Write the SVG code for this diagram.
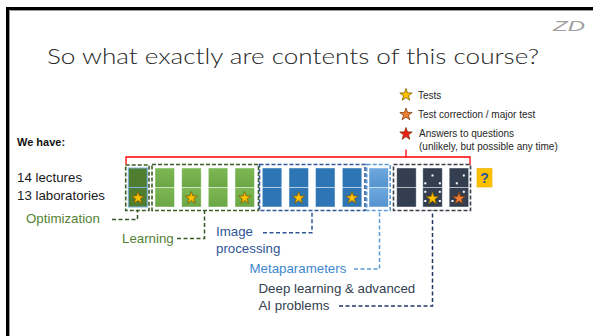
<svg xmlns="http://www.w3.org/2000/svg" width="593" height="336" viewBox="0 0 593 336">
<style>
text{font-family:"Liberation Sans",Arial,sans-serif;}
.title{font-family:Lato,"Liberation Sans",sans-serif;font-weight:300;font-size:22px;fill:#262626;}
.leg{font-size:10px;fill:#262626;}
.lbl{font-size:13.3px;}
.cell{stroke:#ffffff;stroke-opacity:0.55;stroke-width:0.8;}
.grp{fill:none;stroke-width:1.6;stroke-dasharray:4 2;}
.con{fill:none;stroke-width:1.5;stroke-dasharray:4 2.5;}
.sy{fill:#FFC000;stroke:#7F6000;stroke-width:0.8;}
.so{fill:#ED7D31;stroke:#843C0C;stroke-width:0.8;}
.sr{fill:#F01E14;stroke:#7F3000;stroke-width:0.8;}
.dot{fill:#ffffff;}
</style>
<defs>
<path id="star" d="M0,-6.5 L1.53,-2.1 L6.18,-2.01 L2.47,0.8 L3.82,5.26 L0,2.6 L-3.82,5.26 L-2.47,0.8 L-6.18,-2.01 L-1.53,-2.1 Z"/>
<linearGradient id="gG" x1="0" y1="0" x2="0" y2="1"><stop offset="0" stop-color="#7DB855"/><stop offset="1" stop-color="#6AA643"/></linearGradient>
<linearGradient id="gL" x1="0" y1="0" x2="0" y2="1"><stop offset="0" stop-color="#6EA8DE"/><stop offset="1" stop-color="#5593CF"/></linearGradient>
</defs>
<rect width="593" height="336" fill="#ffffff"/>
<!-- slide frame -->
<path d="M7.5,336 V8.5 H593" fill="none" stroke="#000" stroke-width="3"/>
<path d="M9.5,336 V10.5 H593" fill="none" stroke="#9a9a9a" stroke-width="1"/>
<text x="553" y="31" font-size="15" font-style="italic" fill="#a0a0a0" textLength="32" lengthAdjust="spacingAndGlyphs">ZD</text>
<text class="title" x="47" y="64" textLength="492" lengthAdjust="spacingAndGlyphs">So what exactly are contents of this course?</text>

<g id="legend">
<use href="#star" x="406" y="95" class="sy"/>
<text class="leg" x="418" y="98.5">Tests</text>
<use href="#star" x="406" y="114.5" class="so"/>
<text class="leg" x="418" y="118">Test correction / major test</text>
<use href="#star" x="406" y="134" class="sr"/>
<text class="leg" x="419" y="137">Answers to questions</text>
<text class="leg" x="419" y="150">(unlikely, but possible any time)</text>
</g>

<g id="intro">
<text x="17" y="145.5" font-size="11" font-weight="bold" fill="#111">We have:</text>
<text class="lbl" x="17" y="182" fill="#1a1a1a">14 lectures</text>
<text class="lbl" x="17" y="199.5" fill="#1a1a1a">13 laboratories</text>
</g>

<g id="bracket" fill="none" stroke="#FF0000" stroke-width="1.3">
<path d="M126,165 V157 H470 V165"/>
<path d="M406,157 V149.5"/>
</g>

<g id="optimization">
<rect x="128.3" y="168" width="19" height="19.5" fill="#507E30" stroke="#7FB2E5" stroke-width="1"/>
<rect x="128.3" y="187.5" width="19" height="19.5" fill="#507E30" stroke="#7FB2E5" stroke-width="1"/>
<use href="#star" x="138" y="198" class="sy"/>
<rect class="grp" x="125.7" y="165" width="23.3" height="45.5" stroke="#3B5E25"/>
<text class="lbl" x="26" y="222.5" fill="#548235">Optimization</text>
</g>

<g id="learning">
<rect class="cell" x="155" y="168" width="19.5" height="19.5" fill="url(#gG)"/>
<rect class="cell" x="155" y="187.5" width="19.5" height="19.5" fill="url(#gG)"/>
<rect class="cell" x="181.7" y="168" width="19.5" height="19.5" fill="url(#gG)"/>
<rect class="cell" x="181.7" y="187.5" width="19.5" height="19.5" fill="url(#gG)"/>
<rect class="cell" x="208.3" y="168" width="19.5" height="19.5" fill="url(#gG)"/>
<rect class="cell" x="208.3" y="187.5" width="19.5" height="19.5" fill="url(#gG)"/>
<rect class="cell" x="235" y="168" width="19.5" height="19.5" fill="url(#gG)"/>
<rect class="cell" x="235" y="187.5" width="19.5" height="19.5" fill="url(#gG)"/>
<use href="#star" x="191.4" y="198" class="sy"/>
<use href="#star" x="244.7" y="198" class="sy"/>
<rect class="grp" x="152" y="164.5" width="106.5" height="46" stroke="#3B5E25"/>
<text class="lbl" x="122" y="242.5" fill="#548235">Learning</text>
</g>

<g id="image-processing">
<rect class="cell" x="262.3" y="168" width="19.5" height="19.5" fill="#2E75B6"/>
<rect class="cell" x="262.3" y="187.5" width="19.5" height="19.5" fill="#2E75B6"/>
<rect class="cell" x="289" y="168" width="19.5" height="19.5" fill="#2E75B6"/>
<rect class="cell" x="289" y="187.5" width="19.5" height="19.5" fill="#2E75B6"/>
<rect class="cell" x="315.5" y="168" width="19.5" height="19.5" fill="#2E75B6"/>
<rect class="cell" x="315.5" y="187.5" width="19.5" height="19.5" fill="#2E75B6"/>
<rect class="cell" x="342.3" y="168" width="19.5" height="19.5" fill="#2E75B6"/>
<rect class="cell" x="342.3" y="187.5" width="19.5" height="19.5" fill="#2E75B6"/>
<use href="#star" x="298.7" y="198" class="sy"/>
<use href="#star" x="352" y="198" class="sy"/>
<rect class="grp" x="259.5" y="164.5" width="105.5" height="46" stroke="#2F5597"/>
<text class="lbl" x="216" y="235.5" fill="#2F5597">Image</text>
<text class="lbl" x="216" y="253" fill="#2F5597">processing</text>
</g>

<g id="metaparameters">
<rect class="cell" x="369" y="168" width="19.5" height="19.5" fill="url(#gL)"/>
<rect class="cell" x="369" y="187.5" width="19.5" height="19.5" fill="url(#gL)"/>
<rect class="grp" x="366.7" y="164.5" width="23.5" height="46" stroke="#5B9BD5"/>
<text class="lbl" x="249.5" y="273" fill="#3F88CF">Metaparameters</text>
</g>

<g id="deep-learning">
<rect class="cell" x="396.7" y="168" width="19.5" height="19.5" fill="#333F50"/>
<rect class="cell" x="396.7" y="187.5" width="19.5" height="19.5" fill="#333F50"/>
<rect class="cell" x="422.8" y="168" width="19.5" height="19.5" fill="#333F50"/>
<rect class="cell" x="422.8" y="187.5" width="19.5" height="19.5" fill="#333F50"/>
<rect class="cell" x="449.2" y="168" width="19.5" height="19.5" fill="#333F50"/>
<rect class="cell" x="449.2" y="187.5" width="19.5" height="19.5" fill="#333F50"/>
<rect class="dot" x="431.5" y="174.5" width="2" height="2"/>
<rect class="dot" x="424.3" y="182.3" width="2" height="2"/>
<rect class="dot" x="438.8" y="182.3" width="2" height="2"/>
<rect class="dot" x="424.3" y="190.8" width="2" height="2"/>
<rect class="dot" x="438.8" y="190.8" width="2" height="2"/>
<rect class="dot" x="424.3" y="200" width="2" height="2"/>
<rect class="dot" x="438.8" y="200" width="2" height="2"/>
<rect class="dot" x="462.8" y="174.5" width="2" height="2"/>
<rect class="dot" x="455.8" y="182.3" width="2" height="2"/>
<rect class="dot" x="462.8" y="190.8" width="2" height="2"/>
<rect class="dot" x="451.5" y="200" width="2" height="2"/>
<use href="#star" x="432.5" y="198.5" class="sy"/>
<use href="#star" x="459" y="198.5" class="so"/>
<rect class="grp" x="393.5" y="164.5" width="77" height="46" stroke="#3A3F48"/>
<text class="lbl" x="258.5" y="292.5" fill="#333F50">Deep learning &amp; advanced</text>
<text class="lbl" x="258.5" y="310" fill="#333F50">AI problems</text>
</g>

<g id="question">
<rect x="477" y="168.5" width="15" height="18.5" fill="#FFC000" stroke="#E5AC00" stroke-width="0.6"/>
<text x="484.5" y="183" font-size="14" font-weight="bold" fill="#2F5597" text-anchor="middle">?</text>
</g>

<g id="connectors">
<path class="con" d="M112,219.5 H137.5 V210.5" stroke="#375623"/>
<path class="con" d="M177,238.5 H204.5 V210.5" stroke="#375623"/>
<path class="con" d="M263,232.7 H312 V210.5" stroke="#2F5597"/>
<path class="con" d="M354,269 H379.5 V210.5" stroke="#5B9BD5"/>
<path class="con" d="M339,306 H432.5 V210.5" stroke="#203864"/>
</g>
</svg>
